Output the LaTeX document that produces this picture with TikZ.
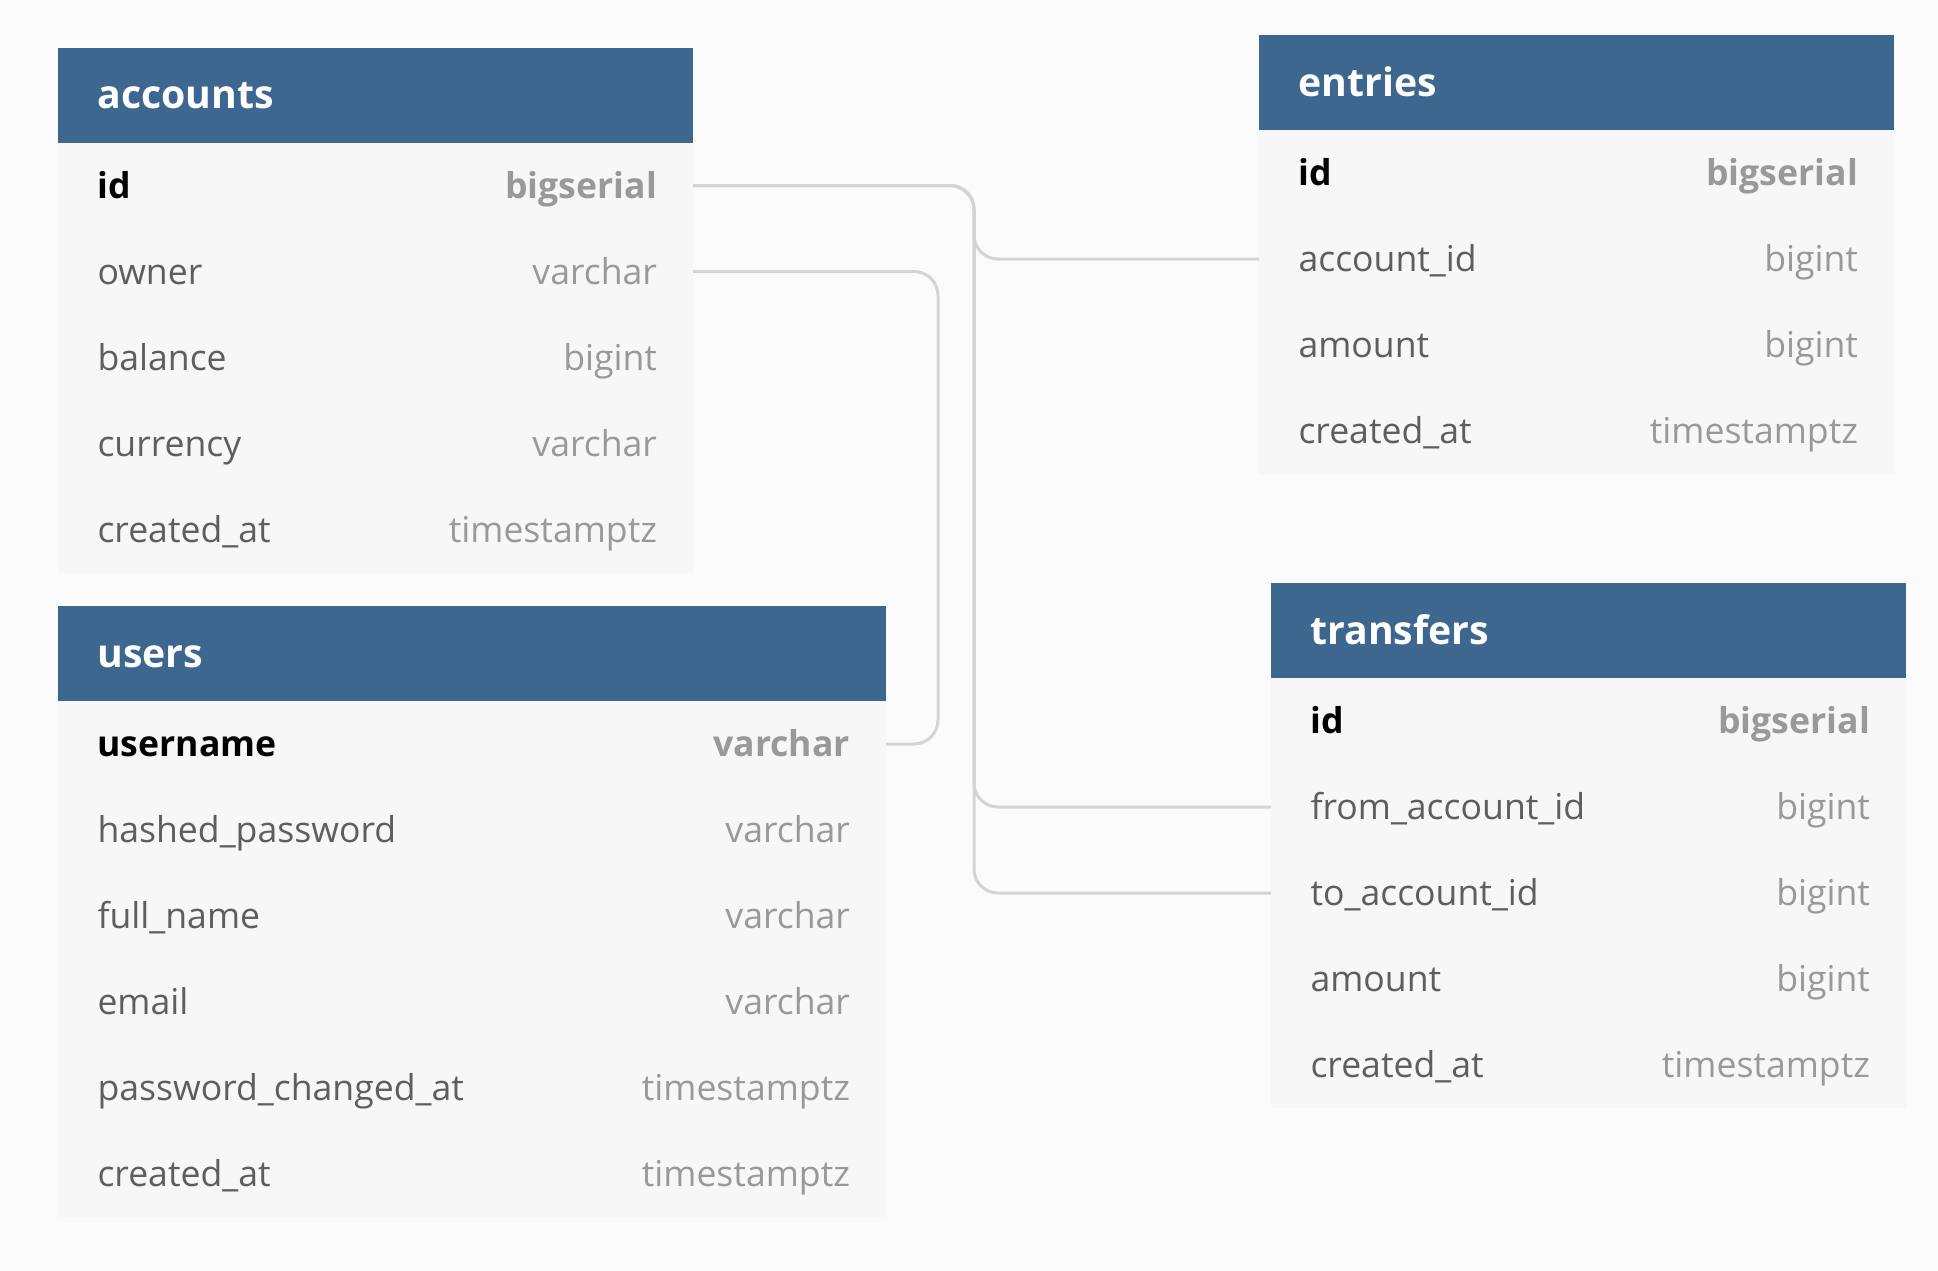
\documentclass[tikz,border=0pt]{standalone}
\usepackage{fontspec}
\setmainfont{Open Sans}
\usetikzlibrary{positioning}
\definecolor{headblue}{HTML}{3E678F}
\definecolor{rowgray}{HTML}{F7F7F7}
\definecolor{pagegray}{HTML}{FBFBFB}
\definecolor{fieldgray}{HTML}{5E5E5E}
\definecolor{typegray}{HTML}{999999}
\definecolor{linkgray}{HTML}{D4D4D4}
\newcommand{\fld}[2]{\color{fieldgray}#1\hfill\color{typegray}#2\hspace*{-1.75pt}}
\newcommand{\pkey}[2]{\bfseries\color{black}#1\hfill\color{typegray}#2\hspace*{-1.75pt}}

\begin{document}
\begin{tikzpicture}[x=0.5pt,y=-0.5pt,
    head/.style={anchor=north west,fill=headblue,text=white,font=\bfseries\fontsize{19.6}{23}\selectfont,
        minimum height=47.5pt,inner xsep=19.75pt,inner ysep=0pt,outer sep=0pt,text height=13.9pt,text depth=0pt},
    row/.style={below=0pt of #1,fill=rowgray,font=\fontsize{17.8}{21}\selectfont,
        minimum height=43pt,inner xsep=19.75pt,inner ysep=0pt,outer sep=0pt,text height=12.6pt,text depth=0pt},
    narrow/.style={text width=278pt},
    wide/.style={text width=374.5pt},
    link/.style={draw=linkgray,line width=1.5pt,rounded corners=12pt}]
            \fill[pagegray] (0,0) rectangle (1938,1270);
            \node[head,narrow] (acc) at (58,47.5) {accounts};
                \node[row=acc,narrow] (acc-id) {\pkey{id}{bigserial}};
                \node[row=acc-id,narrow] (acc-own) {\fld{owner}{varchar}};
                \node[row=acc-own,narrow] (acc-bal) {\fld{balance}{bigint}};
                \node[row=acc-bal,narrow] (acc-cur) {\fld{currency}{varchar}};
                \node[row=acc-cur,narrow] (acc-at) {\fld{created\_at}{timestamptz}};
            \node[head,narrow] (ent) at (1259,35) {entries};
                \node[row=ent,narrow] (ent-id) {\pkey{id}{bigserial}};
                \node[row=ent-id,narrow] (ent-acc) {\fld{account\_id}{bigint}};
                \node[row=ent-acc,narrow] (ent-amt) {\fld{amount}{bigint}};
                \node[row=ent-amt,narrow] (ent-at) {\fld{created\_at}{timestamptz}};
            \node[head,wide] (usr) at (58,606) {users};
                \node[row=usr,wide] (usr-name) {\pkey{username}{varchar}};
                \node[row=usr-name,wide] (usr-pw) {\fld{hashed\_password}{varchar}};
                \node[row=usr-pw,wide] (usr-full) {\fld{full\_name}{varchar}};
                \node[row=usr-full,wide] (usr-mail) {\fld{email}{varchar}};
                \node[row=usr-mail,wide] (usr-chg) {\fld{password\_changed\_at}{timestamptz}};
                \node[row=usr-chg,wide] (usr-at) {\fld{created\_at}{timestamptz}};
            \node[head,narrow] (tr) at (1271,583) {transfers};
                \node[row=tr,narrow] (tr-id) {\pkey{id}{bigserial}};
                \node[row=tr-id,narrow] (tr-from) {\fld{from\_account\_id}{bigint}};
                \node[row=tr-from,narrow] (tr-to) {\fld{to\_account\_id}{bigint}};
                \node[row=tr-to,narrow] (tr-amt) {\fld{amount}{bigint}};
                \node[row=tr-amt,narrow] (tr-at) {\fld{created\_at}{timestamptz}};
            \coordinate (bus) at (974,0);
            \coordinate (bus2) at (938,0);
            \draw[link] (acc-id.east) -- (acc-id.east -| bus) -- (ent-acc.west -| bus) -- (ent-acc.west);
            \draw[link] (acc-id.east) -- (acc-id.east -| bus) -- (tr-from.west -| bus) -- (tr-from.west);
            \draw[link] (acc-id.east) -- (acc-id.east -| bus) -- (tr-to.west -| bus) -- (tr-to.west);
            \draw[link] (acc-own.east) -- (acc-own.east -| bus2) -- (usr-name.east -| bus2) -- (usr-name.east);
\end{tikzpicture}
\end{document}
